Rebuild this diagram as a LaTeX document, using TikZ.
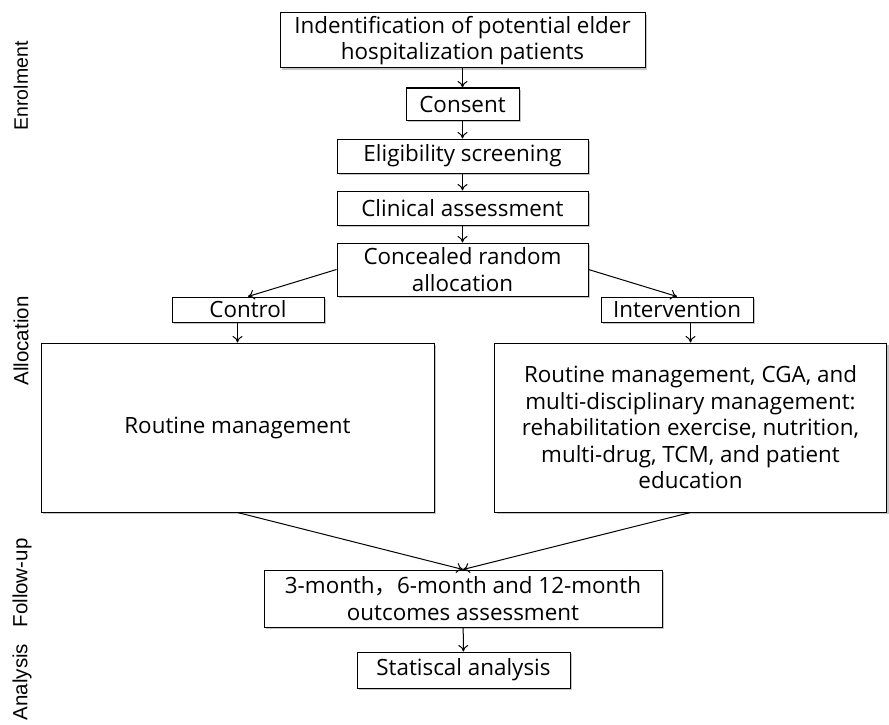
\documentclass[tikz,border=0pt]{standalone}
\usepackage{fontspec}
\setmainfont{Open Sans}
\newfontfamily\phasefont{Liberation Sans}
\newfontfamily\cjk{Noto Sans CJK SC}
\usetikzlibrary{shadows,arrows.meta}

\begin{document}
\begin{tikzpicture}[x=1pt,y=-1pt,
    box/.style={draw,line width=1pt,fill=white,align=center,inner sep=2pt,
        font=\fontsize{22.4}{26.5}\selectfont,
        drop shadow={shadow xshift=2pt,shadow yshift=-2pt,fill=black!45}},
    phase/.style={rotate=90,font=\phasefont\fontsize{20.5}{24}\selectfont},
    flow/.style={-{To[length=6.5pt,width=10pt]},line width=1pt}]
    \useasboundingbox (0,0) rectangle (889,725);

    % Draw phase labels
    \node[phase,font=\phasefont\fontsize{19.5}{22}\selectfont] (enrol) at (21,86) {Enrolment};
    \node[phase] (allocl) at (21,341) {Allocation};
    \node[phase] (follow) at (22,583) {Follow-up};
    \node[phase] (analys) at (22,682) {Analysis};

    % Draw boxes
    \node[box,minimum width=365,minimum height=55] (ident) at (462.5,40.5)
        {Indentification of potential elder\\hospitalization patients};
    \node[box,minimum width=113,minimum height=32] (consent) at (462.5,104) {Consent};
    \node[box,minimum width=251,minimum height=34] (elig) at (462.5,156) {Eligibility screening};
    \node[box,minimum width=251,minimum height=34] (clin) at (462.5,208) {Clinical assessment};
    \node[box,minimum width=251,minimum height=53] (alloc) at (462.5,269.5)
        {Concealed random\\allocation};
    \node[box,minimum width=152,minimum height=25] (ctrl) at (248,309.5) {Control};
    \node[box,minimum width=152,minimum height=25] (intv) at (677,309.5) {Intervention};
    \node[box,minimum width=393,minimum height=169] (ctrlbox) at (237.5,427.5)
        {Routine management};
    \node[box,minimum width=392,minimum height=169] (intvbox) at (690.5,427.5)
        {Routine management, CGA, and\\multi-disciplinary management:\\rehabilitation exercise, nutrition,\\multi-drug, TCM, and patient\\education};
    \node[box,minimum width=398,minimum height=57] (outc) at (463,598.5)
        {3-month{\cjk ，}6-month and 12-month\\outcomes assessment};
    \node[box,minimum width=213,minimum height=36] (stat) at (463.5,670) {Statiscal analysis};

    % Draw arrows
    \draw[flow] (ident) -- (consent);
    \draw[flow] (consent) -- (elig);
    \draw[flow] (elig) -- (clin);
    \draw[flow] (clin) -- (alloc);
    \draw[flow] (alloc.west) -- (ctrl.north);
    \draw[flow] (alloc.east) -- (intv.north);
    \draw[flow] (ctrl.south -| ctrlbox.north) -- (ctrlbox.north);
    \draw[flow] (intv.south -| intvbox.north) -- (intvbox.north);
    \draw[flow] (ctrlbox.south) -- (outc.north);
    \draw[flow] (intvbox.south) -- (outc.north);
    \draw[flow] (outc) -- (stat);

\end{tikzpicture}
\end{document}
